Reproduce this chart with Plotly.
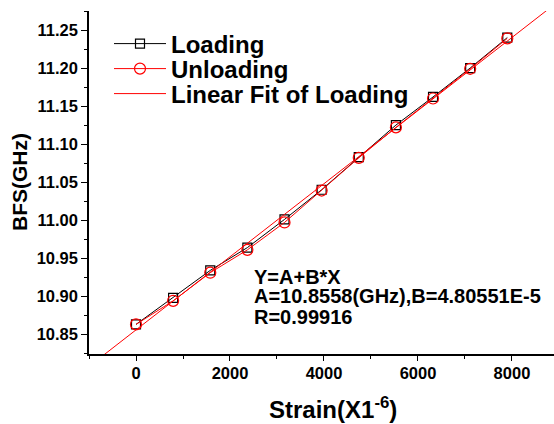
import plotly.graph_objects as go

# ---- data ----
strain = [0, 790, 1580, 2370, 3160, 3950, 4740, 5530, 6320, 7110, 7900]
bfs_loading = [10.863, 10.898, 10.934, 10.964, 11.001, 11.040, 11.083, 11.125, 11.162, 11.200, 11.240]
bfs_unloading = [10.863, 10.894, 10.931, 10.961, 10.997, 11.039, 11.082, 11.122, 11.160, 11.199, 11.239]
fit_A = 10.8558
fit_B = 4.80551e-5
fit_R = 0.99916
fit_x = [-1000, 9000]
fit_y = [fit_A + fit_B * x for x in fit_x]

x_range = [-1000, 8894]
y_range = [10.8241, 11.275]

FONT = "Liberation Sans, Arial, sans-serif"

# plot area in pixels
W, H = 554, 424
L, R, T, B = 89, 0, 11, 70
PW, PH = W - L - R, H - T - B


def px(xp):
    return (xp - L) / PW


def py(yp):
    return (H - B - yp) / PH


fig = go.Figure()
fig.add_trace(go.Scatter(
    x=strain, y=bfs_loading, mode="lines+markers", name="Loading",
    line=dict(color="black", width=1),
    marker=dict(symbol="square-open", size=9, color="black", line=dict(width=1.2)),
    legend="legend",
))
fig.add_trace(go.Scatter(
    x=strain, y=bfs_unloading, mode="lines+markers", name="Unloading",
    line=dict(color="red", width=1),
    marker=dict(symbol="circle-open", size=11, color="red", line=dict(width=1.2)),
    legend="legend2",
))
fig.add_trace(go.Scatter(
    x=fit_x, y=fit_y, mode="lines", name="Linear Fit of Loading",
    line=dict(color="red", width=1),
    legend="legend3",
))

legend_common = dict(
    font=dict(family=FONT, size=24, color="black", weight="bold"),
    bgcolor="rgba(0,0,0,0)", borderwidth=0, itemwidth=52,
    xanchor="left", yanchor="middle",
)
fig.update_layout(
    legend=dict(x=px(109), y=py(44), **legend_common),
    legend2=dict(x=px(109), y=py(69), **legend_common),
    legend3=dict(x=px(109), y=py(94), **legend_common),
)

tickfont = dict(family=FONT, size=16.5, color="black", weight="bold")

fig.update_layout(
    width=W, height=H,
    margin=dict(l=L, r=R, t=T, b=B, pad=0),
    paper_bgcolor="white", plot_bgcolor="white",
    showlegend=True,
    xaxis=dict(
        range=x_range, tick0=0, dtick=2000, ticks="outside", ticklen=5, tickwidth=1.2,
        tickcolor="black", showline=True, linecolor="black", linewidth=1.5,
        showgrid=False, zeroline=False, tickfont=tickfont, ticklabelstandoff=-2,
        minor=dict(dtick=1000, tick0=0, ticks="outside", ticklen=3, tickwidth=1.2, tickcolor="black"),
    ),
    xaxis2=dict(
        range=x_range, overlaying="x", side="top", anchor="y", tick0=0, dtick=1000,
        ticks="inside", ticklen=5, tickwidth=1.2, tickcolor="black",
        showline=True, linecolor="#808080", linewidth=1.5, showticklabels=False,
        showgrid=False, zeroline=False,
    ),
    yaxis=dict(
        range=y_range, tick0=10.85, dtick=0.05, tickformat=".2f", ticks="outside",
        ticklen=6, tickwidth=1.2, tickcolor="black", showline=True, linecolor="black",
        linewidth=1.5, showgrid=False, zeroline=False, tickfont=tickfont,
        minor=dict(dtick=0.025, tick0=10.85, ticks="outside", ticklen=3, tickwidth=1.2, tickcolor="black"),
    ),
    yaxis2=dict(
        range=y_range, overlaying="y", side="right", anchor="x", tick0=10.85, dtick=0.05,
        ticks="inside", ticklen=3, tickwidth=1.2, tickcolor="#808080",
        showline=False, showticklabels=False, showgrid=False, zeroline=False,
    ),
)

ann_font = dict(family=FONT, size=20, color="black", weight="bold")
fit_lines = [
    "Y=A+B*X",
    f"A={fit_A}(GHz),B={fit_B * 1e5:.5f}E-5",
    f"R={fit_R}",
]
for txt, yc in zip(fit_lines, [276.5, 296, 316.5]):
    fig.add_annotation(xref="paper", yref="paper", x=px(252), y=py(yc), text=txt,
                       showarrow=False, xanchor="left", yanchor="middle", font=ann_font)

fig.add_annotation(xref="paper", yref="paper", x=px(333), y=py(408),
                   text="Strain(X1<sup>-6</sup>)", showarrow=False,
                   xanchor="center", yanchor="middle",
                   font=dict(family=FONT, size=24, color="black", weight="bold"))
fig.add_annotation(xref="paper", yref="paper", x=px(20), y=py(182),
                   text="BFS(GHz)", textangle=-90, showarrow=False,
                   xanchor="center", yanchor="middle",
                   font=dict(family=FONT, size=21, color="black", weight="bold"))

fig.write_html("out.html", config={"displayModeBar": False},
               post_script="document.body.style.margin='0';")
